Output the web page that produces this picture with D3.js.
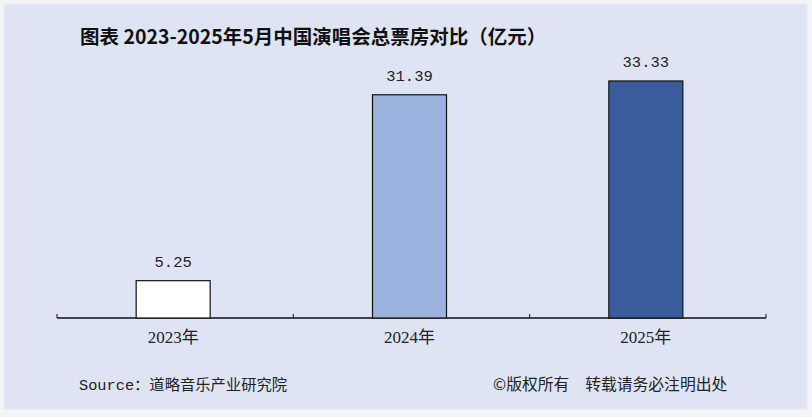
<!DOCTYPE html>
<html><head><meta charset="utf-8">
<script src="https://cdn.jsdelivr.net/npm/d3@7/dist/d3.min.js"></script>
<style>html,body{margin:0;padding:0;background:#fff;}</style>
</head><body>
<script>
const categories = ["2023年", "2024年", "2025年"];
const values = [5.25, 31.39, 33.33];
const valueLabels = ["5.25", "31.39", "33.33"];
const barColors = ["#ffffff", "#9cb3e0", "#3a5c9d"];
const title = "图表 2023-2025年5月中国演唱会总票房对比（亿元）";
const source = "Source：道略音乐产业研究院";
const copyright = "©版权所有　转载请务必注明出处";

const W = 812, H = 417;
const svg = d3.select("body").append("svg").attr("width", W).attr("height", H);

svg.append("rect").attr("x", 0).attr("y", 0).attr("width", W).attr("height", H).attr("fill", "#f4f4f6");
svg.append("rect").attr("x", 4).attr("y", 4).attr("width", 803).attr("height", 405)
  .attr("fill", "#dfe4f4").attr("stroke", "#e8e9ee").attr("stroke-width", 1);

const x = d3.scaleBand().domain(categories).range([57, 766]).paddingInner(0).paddingOuter(0);
const y = d3.scaleLinear().domain([0, 35]).range([318, 69.1]);
const barW = 74;

const axis = d3.axisBottom(x).tickSize(0).tickPadding(13);
const gAxis = svg.append("g").attr("transform", "translate(-2,318)").call(axis);
gAxis.select(".domain").remove();
gAxis.selectAll("text").attr("font-family", "'Liberation Serif', 'Noto Sans CJK SC', serif")
  .attr("font-size", 17).attr("fill", "#222");

svg.append("line").attr("x1", 57).attr("x2", 766).attr("y1", 318).attr("y2", 318)
  .attr("stroke", "#111").attr("stroke-width", 1.3);
const tickPos = categories.map(c => x(c)).concat([x.range()[1]]);
svg.selectAll(".tk").data(tickPos).enter().append("line")
  .attr("x1", d => d).attr("x2", d => d).attr("y1", 314).attr("y2", 318)
  .attr("stroke", "#111").attr("stroke-width", 1);

svg.selectAll(".bar").data(values).enter().append("rect")
  .attr("x", (d, i) => x(categories[i]) + x.bandwidth() / 2 - barW / 2 - 2)
  .attr("y", d => y(d))
  .attr("width", barW)
  .attr("height", d => y(0) - y(d))
  .attr("fill", (d, i) => barColors[i])
  .attr("stroke", "#111").attr("stroke-width", 1.2);

svg.selectAll(".lbl").data(values).enter().append("text")
  .attr("x", (d, i) => x(categories[i]) + x.bandwidth() / 2 - 2)
  .attr("y", d => y(d) - 14)
  .attr("text-anchor", "middle")
  .attr("font-family", "'Liberation Mono', monospace")
  .attr("font-size", 15.5).attr("fill", "#222")
  .text((d, i) => valueLabels[i]);

svg.append("text").attr("x", 80).attr("y", 44)
  .attr("font-family", "'Noto Sans CJK SC', sans-serif").attr("font-weight", "bold")
  .attr("font-size", 19.5).attr("fill", "#111").text(title);

svg.append("text").attr("x", 79).attr("y", 390)
  .attr("font-family", "'Liberation Mono', 'Noto Sans CJK SC', monospace")
  .attr("font-size", 15.3).attr("fill", "#222").text(source);

svg.append("text").attr("x", 493).attr("y", 390)
  .attr("font-family", "'Noto Sans CJK SC', sans-serif")
  .attr("font-size", 15.8).attr("fill", "#222").text(copyright);
</script>
</body></html>
